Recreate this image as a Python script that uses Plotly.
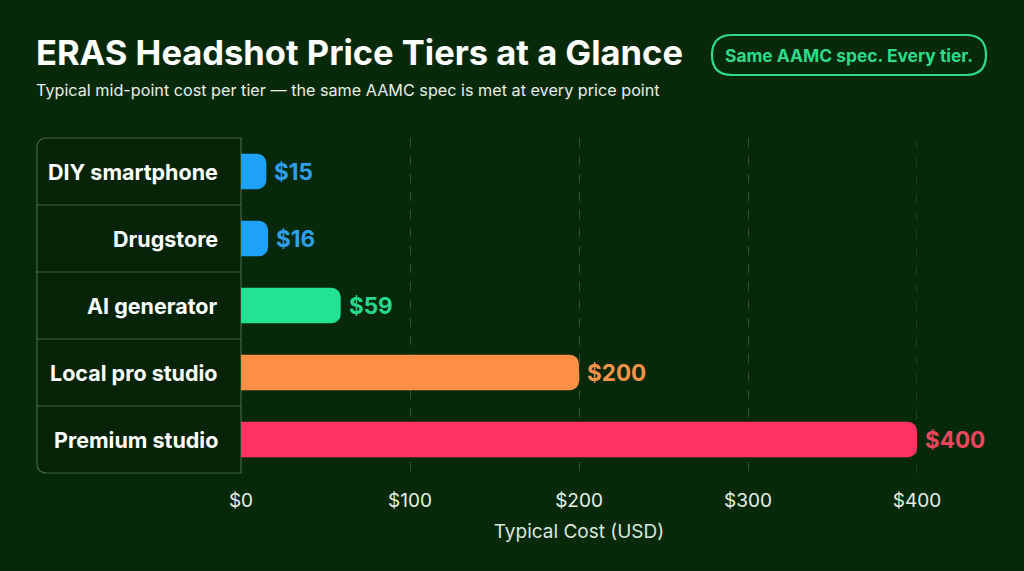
import plotly.graph_objects as go

categories = ["DIY smartphone", "Drugstore", "AI generator", "Local pro studio", "Premium studio"]
costs = [15, 16, 59, 200, 400]
bar_colors = ["#1DA1F9", "#1DA1F9", "#22E394", "#FF8F45", "#FF3366"]
label_colors = ["#2FA0EE", "#2FA0EE", "#26D98F", "#F7924A", "#F0445F"]
tick_vals = [0, 100, 200, 300, 400]
tick_text = ["$0", "$100", "$200", "$300", "$400"]

W, H = 1024, 571
L, R, T, B = 241, 917, 138, 473
pw, ph = R - L, B - T

def px(x):
    return (x - L) / pw

def py(y):
    return (B - y) / ph

BG = "#062a09"
GRID = "rgba(200,230,200,0.22)"
FONT = "Inter, Roboto, 'Noto Sans', sans-serif"

fig = go.Figure()
fig.add_trace(go.Bar(
    x=costs, y=categories, orientation="h",
    marker=dict(color=bar_colors, line=dict(width=0)),
    width=0.53,
    hoverinfo="skip",
))

shapes = []
# right-edge gridline (plotly omits the grid line at the range end)
shapes.append(dict(type="line", xref="x", yref="paper", x0=tick_vals[-1], x1=tick_vals[-1],
                   y0=0, y1=1, line=dict(color=GRID, width=1, dash="dash"), layer="below"))
r = 10
x0, x1, y0, y1 = px(37), px(241), py(138), py(473)
rx, ry = r / pw, r / ph
path = (f"M {x1} {y0} L {x0+rx} {y0} Q {x0} {y0} {x0} {y0-ry} "
        f"L {x0} {y1+ry} Q {x0} {y1} {x0+rx} {y1} L {x1} {y1} Z")
shapes.append(dict(type="path", xref="paper", yref="paper", path=path,
                   fillcolor="rgba(0,0,0,0.12)",
                   line=dict(color="rgba(200,230,200,0.32)", width=1.2), layer="below"))
for i in range(len(categories) - 1):
    shapes.append(dict(type="line", xref="paper", yref="y", x0=px(37), x1=px(241),
                       y0=i + 0.5, y1=i + 0.5,
                       line=dict(color="rgba(200,230,200,0.32)", width=1.2)))
bx0, bx1, by0, by1 = px(712), px(986), py(35), py(75)
br = 20
brx, bry = br / pw, br / ph
bpath = (f"M {bx0+brx} {by0} L {bx1-brx} {by0} Q {bx1} {by0} {bx1} {by0-bry} "
         f"Q {bx1} {by1} {bx1-brx} {by1} L {bx0+brx} {by1} Q {bx0} {by1} {bx0} {by1+bry} "
         f"Q {bx0} {by0} {bx0+brx} {by0} Z")
shapes.append(dict(type="path", xref="paper", yref="paper", path=bpath,
                   fillcolor="rgba(0,0,0,0)", line=dict(color="#2FD98C", width=2.2)))

annotations = []
for c in categories:
    annotations.append(dict(x=px(220), y=c, xref="paper", yref="y", text=c,
                            xanchor="right", yanchor="middle", showarrow=False,
                            font=dict(color="#FFFFFF", size=21.5, family=FONT, weight="bold")))
for c, v, col in zip(categories, costs, label_colors):
    annotations.append(dict(x=v, y=c, xref="x", yref="y", text="$" + str(v),
                            xanchor="left", yanchor="middle", showarrow=False, xshift=6,
                            font=dict(color=col, size=22.5, family=FONT, weight="bold")))
annotations.append(dict(x=px(34), y=py(53), xref="paper", yref="paper",
                        text="ERAS Headshot Price Tiers at a Glance",
                        xanchor="left", yanchor="middle", showarrow=False,
                        font=dict(color="#FFFFFF", size=34.5, family=FONT, weight="bold")))
annotations.append(dict(x=px(34), y=py(90), xref="paper", yref="paper",
                        text="Typical mid-point cost per tier — the same AAMC spec is met at every price point",
                        xanchor="left", yanchor="middle", showarrow=False,
                        font=dict(color="#E8EFE8", size=16.2, family=FONT)))
annotations.append(dict(x=px(849), y=py(55), xref="paper", yref="paper",
                        text="Same AAMC spec. Every tier.",
                        xanchor="center", yanchor="middle", showarrow=False,
                        font=dict(color="#2FD98C", size=17.4, family=FONT, weight="bold")))

fig.update_layout(
    width=W, height=H,
    margin=dict(l=L, r=W - R, t=T, b=H - B),
    paper_bgcolor=BG, plot_bgcolor=BG,
    barcornerradius=9,
    showlegend=False,
    shapes=shapes, annotations=annotations,
    xaxis=dict(range=[0, 400], tickvals=tick_vals, ticktext=tick_text,
               showgrid=True, gridcolor=GRID, griddash="dash", gridwidth=1,
               zeroline=False, showline=False, ticks="", ticklabelstandoff=14,
               tickfont=dict(color="#E8EFE8", size=19, family=FONT),
               title=dict(text="Typical Cost (USD)", font=dict(color="#DDE6DD", size=19, family=FONT),
                          standoff=13),
               fixedrange=True),
    yaxis=dict(categoryorder="array", categoryarray=categories, range=[4.5, -0.5],
               showticklabels=False, showgrid=False, zeroline=False, showline=False,
               fixedrange=True),
)

fig.write_html("out.html")
